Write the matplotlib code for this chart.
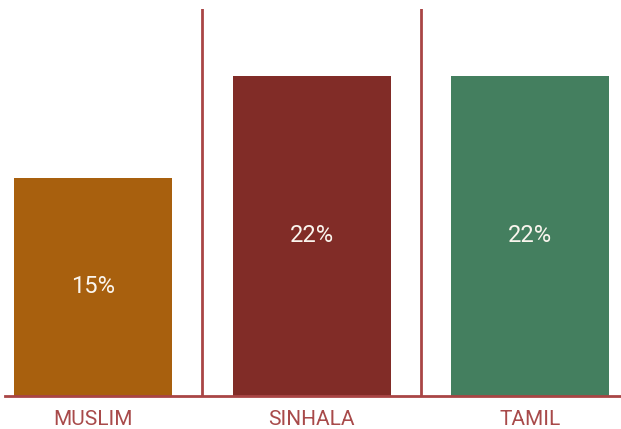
import matplotlib
matplotlib.use('Agg')
import matplotlib.pyplot as plt

# data
groups = ['MUSLIM', 'SINHALA', 'TAMIL']
shares = [15, 22, 22]
colors = ['#A8600E', '#812C27', '#447F5F']

line_color = '#A94545'
label_color = '#A84A4A'

plt.rcParams['font.family'] = ['Roboto', 'DejaVu Sans']

fig = plt.figure(figsize=(6.21, 4.29), dpi=100)
ax = fig.add_axes([5 / 621, 33 / 429, 616 / 621, 387 / 429])

x = range(len(groups))
bars = ax.bar(x, shares, width=0.723, color=colors, zorder=2)

ax.set_xlim(-0.403, 2.416)
ax.set_ylim(0, 26.6)

# separators between groups
for i in range(len(groups) - 1):
    ax.axvline(i + 0.5, color=line_color, linewidth=2, zorder=1)
ax.axhline(0, color=line_color, linewidth=2, zorder=3, clip_on=False)

# value labels in the middle of the bars
for bar, val in zip(bars, shares):
    ax.text(bar.get_x() + bar.get_width() / 2, val / 2, f'{val}%',
            ha='center', va='center', color='#FAF5EE', fontsize=17)

ax.set_xticks(list(x))
ax.set_xticklabels(groups, color=label_color, fontsize=15)
ax.tick_params(axis='x', length=0, pad=10)
ax.set_yticks([])
for s in ax.spines.values():
    s.set_visible(False)

fig.savefig('out.png', dpi=100)
